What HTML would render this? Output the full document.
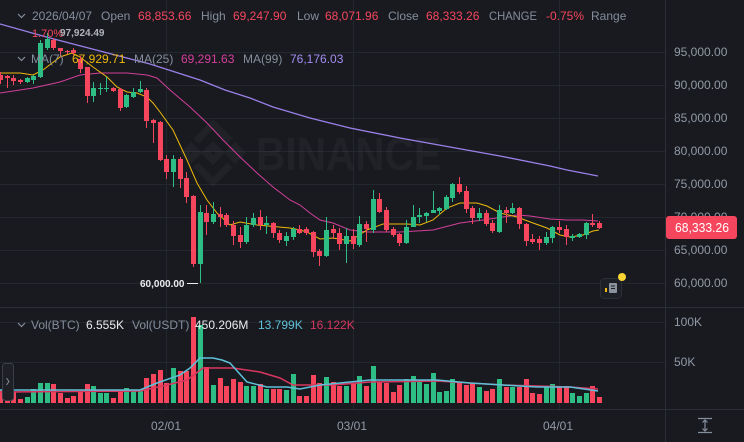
<!DOCTYPE html>
<html><head><meta charset="utf-8"><style>
html,body{margin:0;padding:0;background:#181a20;}
svg{display:block;font-family:"Liberation Sans",sans-serif;}
</style></head><body>
<svg width="744" height="442" viewBox="0 0 744 442" xmlns="http://www.w3.org/2000/svg">
<rect width="744" height="442" fill="#181a20"/>
<!-- grid -->
<g stroke="#23272e" stroke-width="1">
<path d="M0 52.5H665M0 85.5H665M0 118.5H665M0 151.5H665M0 184.5H665M0 217.5H665M0 250.5H665M0 283.5H665M0 322.5H665M0 362.5H665"/>
<path d="M166.5 0V409M353.5 0V409M559.5 0V409"/>
</g>
<!-- watermark -->
<g fill="none" stroke="#ffffff" stroke-opacity="0.035" stroke-width="7">
<polygon points="213,146 220,153 213,160 206,153"/>
<polygon points="191,147 197,153 191,159 185,153"/>
<polygon points="235,147 241,153 235,159 229,153"/>
<polyline points="196,141 213,124 230,141"/>
<polyline points="196,165 213,182 230,165"/>
</g>
<g fill="#ffffff" fill-opacity="0.035">
<text x="256" y="170" font-size="46" font-weight="bold" textLength="185" lengthAdjust="spacingAndGlyphs">BINANCE</text>
</g>
<!-- MA lines -->
<polyline fill="none" stroke="#9b80e8" stroke-width="1.3" points="0,24 50,38 100,51 150,64 200,80 225,90 250,98 273,107 310,118 350,128 400,138 450,147 500,156 550,166 567,170 598,176"/>
<polyline fill="none" stroke="#d23f9a" stroke-width="1" points="0,93 33,88 60,82 80,75 100,73 127,73 147,75 157,78 170,90 190,107 207,123 223,140 240,157 257,173 273,187 290,200 300,205 310,213 320,220 333,223 350,230 367,232 400,232 433,230 460,223 483,220 517,215 530,216 550,219 567,220 583,220 598,221"/>
<polyline fill="none" stroke="#f0b90b" stroke-width="1" points="0,73 20,73 33,75 43,70 60,57 72,53 80,57 93,67 107,77 117,87 127,92 137,93 147,97 153,103 160,112 173,130 187,160 197,183 207,200 217,213 230,225 240,222 257,225 290,228 300,230 307,232 320,239 333,238 350,241 367,230 383,224 407,224 420,225 433,220 447,208 460,203 477,203 487,206 500,213 517,217 533,223 547,228 560,235 570,237 583,235 593,231 599,230"/>
<!-- candles -->
<g fill="none" stroke="#f6465d">
<path stroke-width="1" d="M0.5 72V84M7.5 75V88M13.5 75V85M20.5 79V84M53.5 38V50M60.5 48V57M67.5 50V54M73.5 48V55M80.5 56V73M87.5 67V103M113.5 87V92M120.5 88V111M146.5 88V128M153.5 119V143M160.5 121V161M166.5 155V179M180.5 157V188M186.5 172V203M193.5 195V267M206.5 205V235M220.5 207V227M226.5 213V227M233.5 221V245M240.5 227V248M260.5 210V230M273.5 222V238M279.5 230V243M299.5 225V234M306.5 227V235M313.5 231V257M319.5 249V266M333.5 225V239M339.5 228V250M353.5 229V249M366.5 221V242M379.5 193V213M386.5 207V232M393.5 227V237M399.5 233V246M459.5 177V194M466.5 186V213M472.5 206V224M486.5 210V226M492.5 220V233M506.5 207V223M519.5 207V229M526.5 223V246M532.5 234V244M539.5 236V250M559.5 221V233M566.5 225V245M592.5 214V227M599.5 221V229"/>
<path stroke-width="5" d="M0.5 75V80M7.5 76V78M13.5 78V81M20.5 80V82M53.5 40V48M60.5 48V51M67.5 51V52M73.5 50V53M80.5 59V69M87.5 67V96M113.5 88V91M120.5 89V108M146.5 90V121M153.5 120V123M160.5 122V160M166.5 159V172M180.5 159V179M186.5 178V197M193.5 196V264M206.5 213V222M220.5 214V217M226.5 215V225M233.5 225V236M240.5 235V242M260.5 217V225M273.5 223V233M279.5 233V240M299.5 229V233M306.5 229V233M313.5 232V252M319.5 251V256M333.5 229V233M339.5 233V244M353.5 236V244M366.5 224V229M379.5 199V212M386.5 210V230M393.5 229V235M399.5 234V243M459.5 184V192M466.5 191V209M472.5 208V218M486.5 213V224M492.5 223V231M506.5 210V213M519.5 208V224M526.5 224V241M532.5 239V242M539.5 239V243M559.5 227V230M566.5 229V237M592.5 223V225M599.5 223V228"/>
</g>
<g fill="none" stroke="#2ebd85">
<path stroke-width="1" d="M27.5 77V83M33.5 75V84M40.5 40V78M47.5 33V50M93.5 82V102M100.5 83V95M106.5 77V92M126.5 94V108M133.5 88V98M140.5 81V93M173.5 155V187M200.5 205V283M213.5 202V224M246.5 217V244M253.5 213V227M266.5 216V234M286.5 232V246M293.5 227V240M326.5 217V257M346.5 228V263M359.5 216V247M373.5 190V233M406.5 220V244M413.5 205V227M419.5 208V223M426.5 212V222M433.5 191V213M439.5 207V215M446.5 195V210M452.5 183V202M479.5 208V221M499.5 205V233M512.5 203V214M546.5 232V245M552.5 226V243M572.5 234V241M579.5 233V238M586.5 222V239"/>
<path stroke-width="5" d="M27.5 78V82M33.5 76V80M40.5 43V77M47.5 39V48M93.5 88V96M100.5 88V89M106.5 88V89M126.5 95V107M133.5 92V97M140.5 89V92M173.5 159V172M200.5 212V264M213.5 214V222M246.5 225V242M253.5 218V225M266.5 223V225M286.5 236V241M293.5 229V237M326.5 230V256M346.5 236V244M359.5 224V245M373.5 199V230M406.5 227V243M413.5 217V227M419.5 215V217M426.5 213V216M433.5 210V213M439.5 208V211M446.5 197V209M452.5 184V198M479.5 213V218M499.5 210V232M512.5 208V213M546.5 237V243M552.5 227V238M572.5 236V238M579.5 234V237M586.5 223V235"/>
</g>
<!-- volume bars -->
<path fill="none" stroke="#f6465d" stroke-width="5" d="M0.5 403V390M7.5 403V390M13.5 403V392M20.5 403V399M53.5 403V384M60.5 403V393M67.5 403V398M73.5 403V396M80.5 403V391M87.5 403V384M113.5 403V398M120.5 403V391M146.5 403V378M153.5 403V374M160.5 403V370M166.5 403V383M180.5 403V371M186.5 403V371M193.5 403V317M206.5 403V367M220.5 403V378M226.5 403V386M233.5 403V379M240.5 403V382M260.5 403V384M273.5 403V389M279.5 403V389M299.5 403V396M306.5 403V396M313.5 403V375M319.5 403V383M333.5 403V382M339.5 403V386M353.5 403V383M366.5 403V386M379.5 403V382M386.5 403V383M393.5 403V392M399.5 403V385M459.5 403V383M466.5 403V385M472.5 403V383M486.5 403V391M492.5 403V389M506.5 403V387M519.5 403V387M526.5 403V379M532.5 403V393M539.5 403V394M559.5 403V387M566.5 403V386M592.5 403V386M599.5 403V397"/>
<path fill="none" stroke="#2ebd85" stroke-width="5" d="M27.5 403V397M33.5 403V389M40.5 403V383M47.5 403V383M93.5 403V386M100.5 403V393M106.5 403V393M126.5 403V388M133.5 403V390M140.5 403V390M173.5 403V368M200.5 403V325M213.5 403V385M246.5 403V386M253.5 403V386M266.5 403V389M286.5 403V390M293.5 403V374M326.5 403V377M346.5 403V386M359.5 403V376M373.5 403V366M406.5 403V379M413.5 403V376M419.5 403V380M426.5 403V384M433.5 403V373M439.5 403V392M446.5 403V391M452.5 403V379M479.5 403V387M499.5 403V379M512.5 403V387M546.5 403V387M552.5 403V384M572.5 403V393M579.5 403V396M586.5 403V393"/>
<polyline fill="none" stroke="#d9365f" stroke-width="1.5" points="0,392 140,391 167,385 187,380 203,368 233,368 260,372 280,378 293,385 333,385 370,382 437,381 503,385 570,387 598,389"/>
<polyline fill="none" stroke="#5ec1d8" stroke-width="1.5" points="0,390 47,390 140,390 157,383 180,375 190,368 200,358 213,358 222,360 230,363 247,382 267,387 287,387 300,389 320,385 350,382 370,380 437,380 470,383 537,387 570,387 598,391"/>
<!-- separators -->
<g stroke="#2b2f36" stroke-width="1">
<path d="M0 307.5H744M0 409.5H744M665.5 0V442"/>
</g>
<!-- left expand button -->
<rect x="2.5" y="363.5" width="11" height="37" rx="3" fill="#1e2026" stroke="#3a3f47"/>
<path d="M6.5 378L9 381.5L6.5 385" fill="none" stroke="#848e9c" stroke-width="1"/>
<!-- header chevrons -->
<g fill="none" stroke="#848e9c" stroke-width="1.2">
<path d="M18 14L21.5 17.5L25 14"/>
<path d="M18 57L21.5 60.5L25 57"/>
<path d="M18 323L21.5 326.5L25 323"/>
</g>
<!-- header text -->
<g font-size="12" fill="#848e9c">
<text x="32" y="20">2026/04/07</text>
<text x="101" y="20">Open</text>
<text x="138" y="20" fill="#f6465d">68,853.66</text>
<text x="201" y="20">High</text>
<text x="233" y="20" fill="#f6465d">69,247.90</text>
<text x="297" y="20">Low</text>
<text x="325" y="20" fill="#f6465d">68,071.96</text>
<text x="388" y="20">Close</text>
<text x="426" y="20" fill="#f6465d">68,333.26</text>
<text x="489" y="20" textLength="48" lengthAdjust="spacingAndGlyphs">CHANGE</text>
<text x="546" y="20" fill="#f6465d">-0.75%</text>
<text x="591" y="20">Range</text>
<text x="31" y="63">MA(7)</text>
<text x="72" y="63" fill="#f0b90b">67,929.71</text>
<text x="134" y="63">MA(25)</text>
<text x="181" y="63" fill="#d63f9c">69,291.63</text>
<text x="243" y="63">MA(99)</text>
<text x="290" y="63" fill="#a48cf0">76,176.03</text>
<text x="31" y="329">Vol(BTC)</text>
<text x="86" y="329" fill="#eaecef">6.555K</text>
<text x="132" y="329">Vol(USDT)</text>
<text x="195" y="329" fill="#eaecef">450.206M</text>
<text x="258" y="329" fill="#5ec1d8">13.799K</text>
<text x="310" y="329" fill="#d9365f">16.122K</text>
</g>
<!-- markers -->
<text x="32" y="37" font-size="11" fill="#f6465d">1.70%</text>
<text x="60" y="36" font-size="10" font-weight="bold" fill="#b0b4ba">97,924.49</text>
<text x="140" y="287" font-size="10" font-weight="bold" fill="#eaecef">60,000.00</text>
<path d="M187 283.5H198" stroke="#eaecef" stroke-width="1"/>
<!-- right axis -->
<g font-size="12" fill="#929aa5">
<text x="674" y="56">95,000.00</text>
<text x="674" y="89">90,000.00</text>
<text x="674" y="122">85,000.00</text>
<text x="674" y="155">80,000.00</text>
<text x="674" y="188">75,000.00</text>
<text x="674" y="221">70,000.00</text>
<text x="674" y="254">65,000.00</text>
<text x="674" y="287">60,000.00</text>
<text x="674" y="326">100K</text>
<text x="674" y="366">50K</text>
<text x="151" y="430">02/01</text>
<text x="337" y="430">03/01</text>
<text x="543" y="430">04/01</text>
</g>
<!-- price tag -->
<rect x="666" y="216" width="71" height="23" rx="3" fill="#f6465d"/>
<text x="675" y="232" font-size="13" fill="#ffffff" textLength="54" lengthAdjust="spacingAndGlyphs">68,333.26</text>
<!-- event icon -->
<rect x="600.5" y="278.5" width="21" height="20" rx="4" fill="#1c1f25" stroke="#2b2f36"/>
<rect x="609" y="283" width="8" height="10" rx="1" fill="#8a929e"/>
<path d="M611 286H615M611 288.5H615" stroke="#1c1f25" stroke-width="1"/>
<rect x="605" y="288" width="2" height="4" fill="#f0b90b"/>
<circle cx="622" cy="277" r="4" fill="#fcd535"/>
<!-- bottom right icon -->
<g stroke="#848e9c" stroke-width="1.2" fill="none">
<path d="M698 418.5H712M698 432.5H712M705 420V431M702.5 422.5L705 420L707.5 422.5M702.5 428.5L705 431L707.5 428.5"/>
</g>
</svg>
</body></html>
